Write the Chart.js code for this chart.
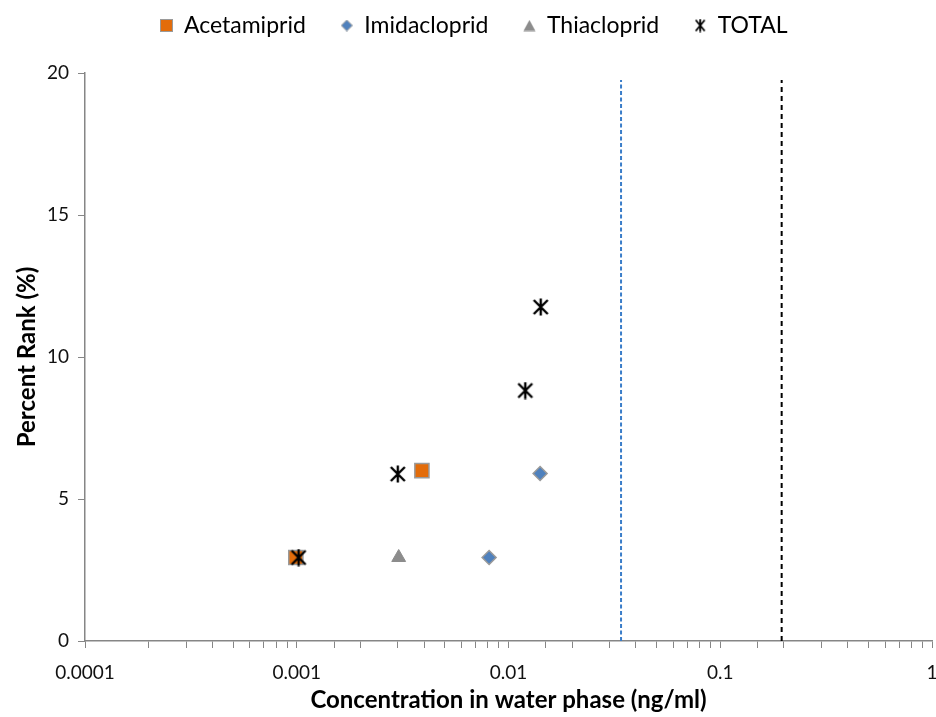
<!DOCTYPE html>
<html><head><meta charset="utf-8">
<script src="https://cdn.jsdelivr.net/npm/chart.js@4"></script>
<style>html,body{margin:0;padding:0;background:#fff}canvas{display:block}</style>
</head><body>
<canvas id="c" width="936" height="717"></canvas>
<script>
const acetamiprid = [{x:0.00099,y:2.94},{x:0.0039,y:6.0}];
const imidacloprid = [{x:0.0081,y:2.94},{x:0.0141,y:5.9}];
const thiacloprid = [{x:0.00303,y:2.94}];
const total = [{x:0.00102,y:2.94},{x:0.003,y:5.88},{x:0.012,y:8.82},{x:0.0142,y:11.76}];
const blueLineX = 0.034;
const blackLineX = 0.195;
const lineTop = 19.75;
const xTickLabels = ['0.0001','0.001','0.01','0.1','1'];
const yTicks = [0,5,10,15,20];

function mk(w,h,fn){const c=document.createElement('canvas');c.width=w;c.height=h;fn(c.getContext('2d'),w,h);return c;}
const totalMarker = mk(18,18,(g)=>{g.strokeStyle='#000';g.lineWidth=2.4;g.beginPath();g.moveTo(2,2);g.lineTo(16,16);g.moveTo(16,2);g.lineTo(2,16);g.moveTo(9,0.5);g.lineTo(9,17.5);g.stroke();});
const legTotal = mk(12,14,(g)=>{g.strokeStyle='#000';g.lineWidth=1.8;g.beginPath();g.moveTo(1.5,1.5);g.lineTo(10.5,12.5);g.moveTo(10.5,1.5);g.lineTo(1.5,12.5);g.moveTo(6,0.5);g.lineTo(6,13.5);g.stroke();});
const legSquare = mk(13,13,(g)=>{g.fillStyle='#E36C0A';g.fillRect(0.5,0.5,12,12);g.strokeStyle='#9a9a9a';g.lineWidth=1;g.strokeRect(0.5,0.5,12,12);});
const legDiamond = mk(12,12,(g)=>{g.fillStyle='#4F81BD';g.strokeStyle='#9a9a9a';g.lineWidth=1;g.beginPath();g.moveTo(6,0.5);g.lineTo(11.5,6);g.lineTo(6,11.5);g.lineTo(0.5,6);g.closePath();g.fill();g.stroke();});
const legTri = mk(13,12,(g)=>{g.fillStyle='#8C8C8C';g.beginPath();g.moveTo(6.5,0.5);g.lineTo(12.5,11.5);g.lineTo(0.5,11.5);g.closePath();g.fill();});
const legendMarkers = [legSquare,legDiamond,legTri,legTotal];

const FONT='Lato';
const legendPatch = {id:'legendPatch', beforeLayout(chart){
  const lg = chart.legend; if(!lg || lg._patched) return;
  const fit = lg.fit.bind(lg);
  lg.fit = function(){ fit(); this.height = 94; };
  lg._patched = true;
}};
new Chart(document.getElementById('c'),{
  type:'scatter',
  plugins:[legendPatch],
  data:{datasets:[
    {label:'Acetamiprid',data:acetamiprid,pointStyle:'rect',pointRadius:10,backgroundColor:'#E36C0A',borderColor:'#9a9a9a',borderWidth:1.5,order:2},
    {label:'Imidacloprid',data:imidacloprid,pointStyle:'rectRot',pointRadius:7,backgroundColor:'#4F81BD',borderColor:'#9a9a9a',borderWidth:1.5,order:3},
    {label:'Thiacloprid',data:thiacloprid,pointStyle:'triangle',pointRadius:8,backgroundColor:'#8C8C8C',borderColor:'#8C8C8C',borderWidth:1,order:4},
    {label:'TOTAL',data:total,pointStyle:totalMarker,pointRadius:9,backgroundColor:'#000',borderColor:'#000',order:1},
    {label:'_blue',type:'line',data:[{x:blueLineX,y:0},{x:blueLineX,y:lineTop}],borderColor:'#3A7DC9',borderWidth:2,borderDash:[4,2.5],pointRadius:0,showLine:true,order:10},
    {label:'_black',type:'line',data:[{x:blackLineX,y:0},{x:blackLineX,y:lineTop}],borderColor:'#000',borderWidth:2,borderDash:[5,4],pointRadius:0,showLine:true,order:11}
  ]},
  options:{
    responsive:false,animation:false,
    layout:{autoPadding:false,padding:{left:16,right:4,top:-21,bottom:0}},
    plugins:{
      tooltip:{enabled:false},
      legend:{position:'top',
        labels:{usePointStyle:true,boxWidth:12,boxHeight:12,padding:35,color:'#000',font:{family:FONT,size:23},
          generateLabels:(chart)=>{
            const items = Chart.defaults.plugins.legend.labels.generateLabels(chart)
              .filter(it=>!it.text.startsWith('_'))
              .sort((a,b)=>a.datasetIndex-b.datasetIndex);
            items.forEach(it=>{it.pointStyle = legendMarkers[it.datasetIndex];});
            return items;
          }}}
    },
    scales:{
      x:{type:'logarithmic',min:0.0001,max:1,
        afterFit:(s)=>{s.height=76;s.paddingRight=0;s.paddingLeft=0;},
        border:{color:'#868686',width:1.5},
        grid:{display:true,drawOnChartArea:false,drawTicks:true,tickLength:7,color:'#868686'},
        ticks:{autoSkip:false,maxRotation:0,color:'#111',font:{family:FONT,size:19},padding:13,
          callback:(v)=>{const l=Math.log10(v);return Math.abs(l-Math.round(l))<1e-6?xTickLabels[Math.round(l)+4]:'';}},
        title:{display:true,text:'Concentration in water phase (ng/ml)',color:'#000',font:{family:FONT,size:24,weight:'bold'},padding:{top:0,bottom:2}}
      },
      y:{min:0,max:20,
        afterFit:(s)=>{s.width=69;},
        border:{color:'#868686',width:1.5},
        grid:{display:true,drawOnChartArea:false,drawTicks:true,tickLength:7,color:'#868686'},
        afterBuildTicks:(s)=>{s.ticks=yTicks.map(v=>({value:v}));},
        ticks:{color:'#111',font:{family:FONT,size:19},padding:9},
        title:{display:true,text:'Percent Rank (%)',color:'#000',font:{family:FONT,size:24,weight:'bold'},padding:{top:-3,bottom:0}}
      }
    }
  }
});
</script>
</body></html>
